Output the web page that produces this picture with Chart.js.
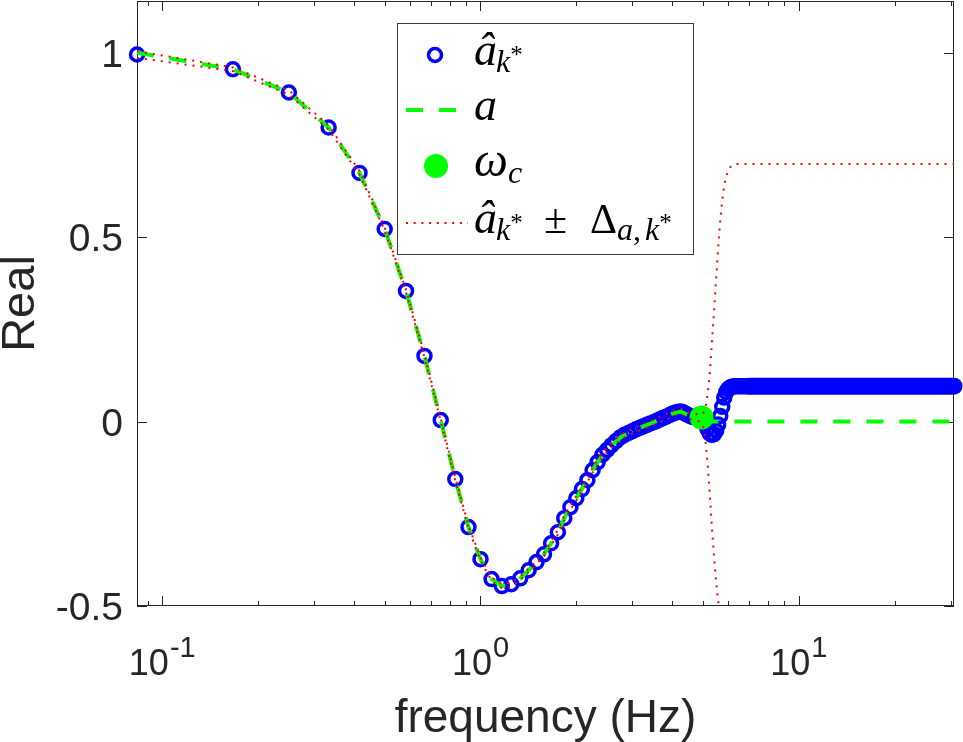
<!DOCTYPE html>
<html>
<head>
<meta charset="utf-8">
<script src="https://cdn.jsdelivr.net/npm/chart.js@4.4.1/dist/chart.umd.min.js"></script>
<style>
  html, body { margin: 0; padding: 0; background: #fff; }
  #wrap { position: relative; width: 963px; height: 742px; }
</style>
</head>
<body>
<div id="wrap"><canvas id="realChart" width="963" height="742"></canvas></div>
<script>
// frequency grid of the estimate (Hz), up to 7 Hz
const freqHz = [0.0833, 0.1667, 0.25, 0.3333, 0.4167, 0.5, 0.5833, 0.6667, 0.75, 0.8333, 0.9167, 1,
  1.0833, 1.1667, 1.25, 1.3333, 1.4167, 1.5, 1.5833, 1.6667, 1.75, 1.8333, 1.9167, 2,
  2.0833, 2.1667, 2.25, 2.3333, 2.4167, 2.5, 2.5833, 2.6667, 2.75, 2.8333, 2.9167, 3,
  3.0833, 3.1667, 3.25, 3.3333, 3.4167, 3.5, 3.5833, 3.6667, 3.75, 3.8333, 3.9167, 4,
  4.0833, 4.1667, 4.25, 4.3333, 4.4167, 4.5, 4.5833, 4.6667, 4.75, 4.8333, 4.9167, 5,
  5.0833, 5.1667, 5.25, 5.3333, 5.4167, 5.5, 5.5833, 5.6667, 5.75, 5.8333, 5.9167, 6,
  6.0833, 6.1667, 6.25, 6.3333, 6.4167, 6.5, 6.5833, 6.6667, 6.75, 6.8333, 6.9167, 7];

// estimated real part a-hat at each grid frequency
const aHat = [0.995, 0.955, 0.892, 0.797, 0.674, 0.522, 0.354, 0.178, 0.004, -0.156, -0.286, -0.373,
  -0.427, -0.446, -0.441, -0.425, -0.403, -0.381, -0.360, -0.330, -0.300, -0.262, -0.232, -0.208,
  -0.183, -0.159, -0.132, -0.110, -0.090, -0.077, -0.064, -0.053, -0.043, -0.036, -0.031, -0.026,
  -0.021, -0.017, -0.013, -0.009, -0.005, -0.002, 0.002, 0.006, 0.010, 0.013, 0.017, 0.021,
  0.024, 0.026, 0.027, 0.025, 0.021, 0.017, 0.014, 0.012, 0.011, 0.011, 0.010, 0.006,
  -0.005, -0.020, -0.032, -0.036, -0.034, -0.025, -0.008, 0.015, 0.040, 0.065, 0.080, 0.088,
  0.092, 0.094, 0.095, 0.096, 0.096, 0.096, 0.096, 0.096, 0.096, 0.096, 0.096, 0.096];

// half width of the uncertainty band
const deltaA = [0.009, 0.005, 0.006, 0.006, 0.005, 0.004, 0.004, 0.004, 0.004, 0.004, 0.004, 0.004,
  0.005, 0.005, 0.005, 0.005, 0.005, 0.005, 0.005, 0.006, 0.006, 0.006, 0.006, 0.006,
  0.006, 0.006, 0.006, 0.006, 0.006, 0.006, 0.007, 0.007, 0.007, 0.007, 0.007, 0.007,
  0.007, 0.007, 0.007, 0.007, 0.007, 0.007, 0.007, 0.007, 0.008, 0.008, 0.008, 0.008,
  0.008, 0.008, 0.008, 0.008, 0.008, 0.008, 0.008, 0.009, 0.009, 0.010, 0.012, 0.015,
  0.04, 0.09, 0.16, 0.25, 0.33, 0.41, 0.48, 0.53, 0.56, 0.575, 0.585, 0.592,
  0.597, 0.6, 0.602, 0.602, 0.602, 0.602, 0.602, 0.602, 0.602, 0.602, 0.602, 0.602];

// beyond 7 Hz the estimate is flat (circles merge into a solid band)
const tailHz = [7, 10, 20, 30.75];
const tailHat = [0.096, 0.096, 0.096, 0.096];
const tailDelta = [0.602, 0.602, 0.602, 0.602];

// true value a
const aTrueHz = [0.0833, 0.1667, 0.25, 0.3333, 0.4167, 0.5, 0.5833, 0.6667, 0.75, 0.8333, 0.9167, 1,
  1.0833, 1.1667, 1.25, 1.3333, 1.4167, 1.5, 1.5833, 1.6667, 1.75, 1.8333, 1.9167, 2,
  2.0833, 2.1667, 2.25, 2.3333, 2.5, 2.75, 3, 3.25, 3.5, 3.75, 4, 4.25, 4.5, 4.75, 5, 5.0833, 30.75];
const aTrue = [1.0, 0.955, 0.892, 0.797, 0.674, 0.522, 0.354, 0.178, 0.004, -0.156, -0.286, -0.373,
  -0.427, -0.446, -0.441, -0.425, -0.403, -0.381, -0.360, -0.330, -0.300, -0.262, -0.232, -0.208,
  -0.183, -0.159, -0.132, -0.110, -0.077, -0.043, -0.026, -0.013, -0.002, 0.010, 0.021, 0.027,
  0.017, 0.011, 0.006, 0, 0];

// cut-off frequency marker
const omegaC = { x: 4.95, y: 0.011 };

const xMin = 0.0833, xMax = 30.75;
const yMin = -0.5, yMax = 1.14;
const xMajorTicks = [0.1, 1, 10];
const xMajorExp = ['-1', '0', '1'];
const xMinorTicks = [0.09, 0.2, 0.3, 0.4, 0.5, 0.6, 0.7, 0.8, 0.9, 2, 3, 4, 5, 6, 7, 8, 9, 20, 30];
const yTicks = [-0.5, 0, 0.5, 1];
const yTickLabels = ['-0.5', '0', '0.5', '1'];

const BLUE = '#0000ff', GREEN = '#00ff00', RED = '#ff0000', INK = '#262626';

const allHz = freqHz.concat(tailHz);
const allHat = aHat.concat(tailHat);
const allDelta = deltaA.concat(tailDelta);

const pts = (xs, ys) => xs.map((x, i) => ({ x: x, y: ys[i] }));
const sans = s => s + 'px "Liberation Sans", Arial, sans-serif';

// axes box, inward ticks, labels and legend, MATLAB style
const matlabAxes = {
  id: 'matlabAxes',
  beforeDatasetsDraw(chart) {
    const { ctx, chartArea: a, scales: { x, y } } = chart;
    ctx.save();
    ctx.strokeStyle = INK;
    ctx.lineWidth = 1;
    ctx.strokeRect(a.left + 0.5, a.top + 0.5, a.right - a.left - 1, a.bottom - a.top - 1);
    ctx.beginPath();
    xMajorTicks.forEach(v => {
      const px = Math.round(x.getPixelForValue(v)) + 0.5;
      ctx.moveTo(px, a.bottom); ctx.lineTo(px, a.bottom - 10);
      ctx.moveTo(px, a.top); ctx.lineTo(px, a.top + 10);
    });
    xMinorTicks.forEach(v => {
      const px = Math.round(x.getPixelForValue(v)) + 0.5;
      ctx.moveTo(px, a.bottom); ctx.lineTo(px, a.bottom - 5);
      ctx.moveTo(px, a.top); ctx.lineTo(px, a.top + 5);
    });
    yTicks.forEach(v => {
      const py = Math.round(y.getPixelForValue(v)) + 0.5;
      ctx.moveTo(a.left, py); ctx.lineTo(a.left + 10, py);
      ctx.moveTo(a.right, py); ctx.lineTo(a.right - 10, py);
    });
    ctx.stroke();
    ctx.restore();
  },
  afterDraw(chart) {
    const { ctx, chartArea: a, scales: { x, y } } = chart;
    ctx.save();
    ctx.fillStyle = INK;
    // y tick labels
    const ySize = 39;
    ctx.font = sans(ySize);
    ctx.textAlign = 'right';
    ctx.textBaseline = 'alphabetic';
    yTicks.forEach((v, i) => {
      ctx.fillText(yTickLabels[i], a.left - 14, y.getPixelForValue(v) + ySize * 0.358);
    });
    // x tick labels 10^n
    ctx.textAlign = 'left';
    xMajorTicks.forEach((v, i) => {
      ctx.font = sans(36);
      const wBase = ctx.measureText('10').width;
      ctx.font = sans(29);
      const wExp = ctx.measureText(xMajorExp[i]).width;
      const left = x.getPixelForValue(v) - (wBase + wExp + 1) / 2;
      ctx.font = sans(36);
      ctx.fillText('10', left, a.bottom + 69);
      ctx.font = sans(29);
      ctx.fillText(xMajorExp[i], left + wBase + 1, a.bottom + 51);
    });
    // axis titles
    ctx.font = sans(46);
    ctx.textAlign = 'center';
    ctx.fillText('frequency (Hz)', (a.left + a.right) / 2, 732);
    ctx.save();
    ctx.translate(34, (a.top + a.bottom) / 2);
    ctx.rotate(-Math.PI / 2);
    ctx.font = sans(47);
    ctx.fillText('Real', 0, 0);
    ctx.restore();

    // legend
    const L = { left: 397, top: 23, w: 296, h: 231 };
    ctx.fillStyle = '#fff';
    ctx.fillRect(L.left, L.top, L.w, L.h);
    ctx.strokeStyle = '#3a3a3a';
    ctx.lineWidth = 1;
    ctx.strokeRect(L.left + 0.5, L.top + 0.5, L.w, L.h);
    const rows = [55, 110, 166, 223];
    const mx = 435;
    // samples
    ctx.strokeStyle = BLUE; ctx.lineWidth = 3.5;
    ctx.beginPath(); ctx.arc(mx, rows[0], 6.5, 0, Math.PI * 2); ctx.stroke();
    ctx.strokeStyle = GREEN; ctx.lineWidth = 4; ctx.setLineDash([17, 16]);
    ctx.beginPath(); ctx.moveTo(406, rows[1]); ctx.lineTo(456, rows[1]); ctx.stroke();
    ctx.setLineDash([]);
    ctx.fillStyle = GREEN;
    ctx.beginPath(); ctx.arc(mx + 1, rows[2], 12, 0, Math.PI * 2); ctx.fill();
    ctx.strokeStyle = RED; ctx.lineWidth = 2; ctx.setLineDash([2, 5.7]);
    ctx.beginPath(); ctx.moveTo(406, rows[3]); ctx.lineTo(468, rows[3]); ctx.stroke();
    ctx.setLineDash([]);
    // math text
    ctx.fillStyle = '#000';
    ctx.textAlign = 'left';
    const it = s => 'italic ' + s + 'px "Liberation Serif", "DejaVu Serif", serif';
    const rm = s => s + 'px "Liberation Serif", "DejaVu Serif", serif';
    const runs = (x0, base, list) => {
      let cx = x0;
      list.forEach(r => {
        ctx.font = r.f;
        ctx.fillText(r.t, cx + (r.dx || 0), base + (r.dy || 0));
        cx += ctx.measureText(r.t).width + (r.dx || 0);
      });
      return cx;
    };
    const aHatSub = [
      { t: '\u00e2', f: it(46) },
      { t: 'k', f: it(32), dy: 7, dx: -1 },
      { t: '*', f: rm(25), dy: -2 }
    ];
    runs(474, rows[0] + 10, aHatSub);
    runs(474, rows[1] + 10, [{ t: 'a', f: it(46) }]);
    runs(474, rows[2] + 10, [{ t: '\u03c9', f: it(48) }, { t: 'c', f: it(32), dy: 7 }]);
    runs(474, rows[3] + 10, aHatSub);
    runs(544, rows[3] + 10, [{ t: '\u00b1', f: rm(42) }]);
    runs(590, rows[3] + 10, [
      { t: '\u0394', f: rm(42) },
      { t: 'a', f: it(32), dy: 7 },
      { t: ',', f: rm(32), dy: 7 },
      { t: 'k', f: it(32), dy: 7, dx: 4 },
      { t: '*', f: rm(25), dy: -2 }
    ]);
    ctx.restore();
  }
};

new Chart(document.getElementById('realChart').getContext('2d'), {
  type: 'line',
  data: {
    datasets: [
      {
        label: 'â ± Δ upper',
        data: pts(allHz, allHat.map((v, i) => v + allDelta[i])),
        borderColor: RED, borderWidth: 2, borderDash: [2, 6], pointRadius: 0,
        order: 0
      },
      {
        label: 'â ± Δ lower',
        data: pts(allHz, allHat.map((v, i) => v - allDelta[i])),
        borderColor: RED, borderWidth: 2, borderDash: [2, 6], pointRadius: 0,
        order: 0
      },
      {
        label: 'ωc',
        data: [omegaC],
        showLine: false, pointRadius: 12, pointBorderWidth: 0,
        pointBackgroundColor: GREEN, pointBorderColor: GREEN,
        clip: false, order: 1
      },
      {
        label: 'a',
        data: pts(aTrueHz, aTrue),
        borderColor: GREEN, borderWidth: 4, borderDash: [17, 16], pointRadius: 0,
        order: 2
      },
      {
        label: 'â',
        data: pts(freqHz, aHat),
        showLine: false, pointStyle: 'circle', pointRadius: 6.5, pointBorderWidth: 3.5,
        pointBorderColor: BLUE, pointBackgroundColor: 'rgba(0,0,0,0)',
        clip: false, order: 3
      },
      {
        label: 'â tail',
        data: pts(tailHz, tailHat),
        borderColor: BLUE, borderWidth: 17, borderCapStyle: 'round', pointRadius: 0,
        clip: false, order: 3
      }
    ]
  },
  options: {
    responsive: false,
    devicePixelRatio: 1,
    animation: false,
    events: [],
    layout: { autoPadding: false, padding: { left: 137, right: 9, top: 1, bottom: 136 } },
    plugins: { legend: { display: false }, tooltip: { enabled: false } },
    scales: {
      x: { type: 'logarithmic', min: xMin, max: xMax, display: false },
      y: { type: 'linear', min: yMin, max: yMax, display: false }
    }
  },
  plugins: [matlabAxes]
});
</script>
</body>
</html>
